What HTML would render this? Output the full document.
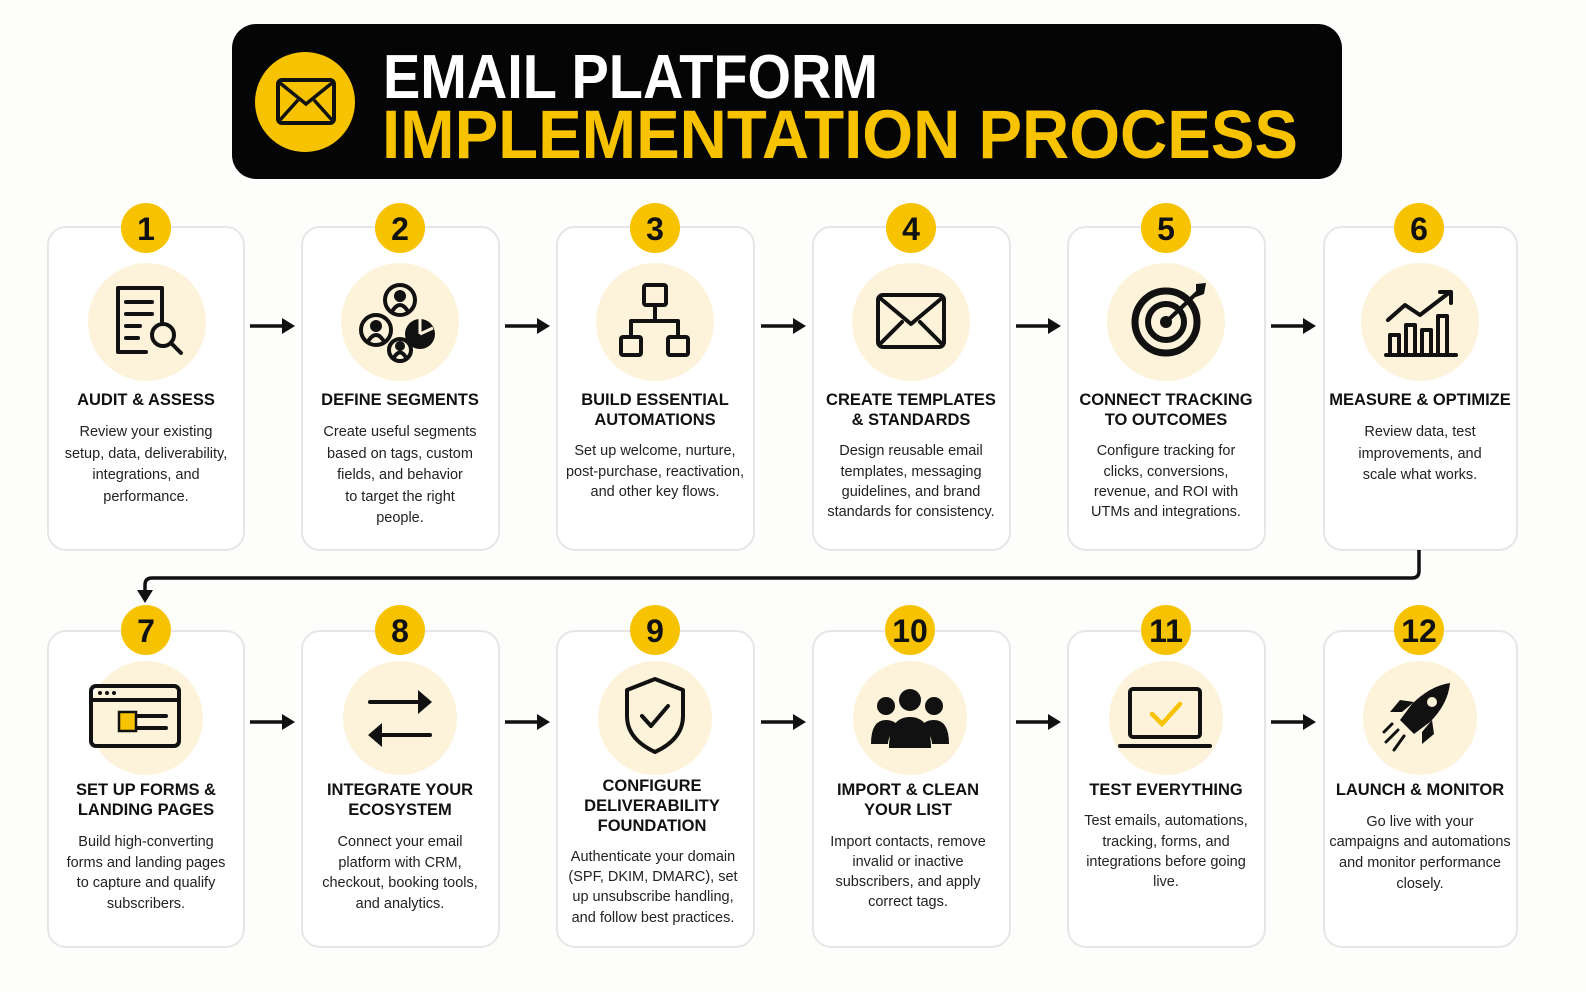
<!DOCTYPE html>
<html><head><meta charset="utf-8"><style>
html,body{margin:0;padding:0;background:#fdfdfc;overflow:hidden;width:1586px;height:992px;}
svg{display:block;}
.t{font-family:"Liberation Sans",sans-serif;font-weight:bold;font-size:16.5px;fill:#111;text-anchor:middle;}
.b{font-family:"Liberation Sans",sans-serif;font-size:14.5px;fill:#222;text-anchor:middle;}
.n{font-family:"Liberation Sans",sans-serif;font-weight:bold;font-size:32px;fill:#111;text-anchor:middle;}
.card{fill:#fff;stroke:#e6e6e6;stroke-width:2;}
.ic{fill:none;stroke:#111;stroke-width:4;stroke-linecap:round;stroke-linejoin:round;}
</style></head><body>
<svg width="1586" height="992" viewBox="0 0 1586 992" xmlns="http://www.w3.org/2000/svg">
<rect width="1586" height="992" fill="#fdfdfc"/>
<!-- header -->
<rect x="232" y="24" width="1110" height="155" rx="24" fill="#050505"/>
<circle cx="305" cy="102" r="50" fill="#F7C300"/>
<rect x="278" y="80" width="56" height="43" rx="4" fill="none" stroke="#111" stroke-width="4"/>
<path d="M280 83 L306 104 L332 83 M280 120 L298 100 M332 120 L314 100" fill="none" stroke="#111" stroke-width="3.5"/>
<text x="383" y="98" font-family="Liberation Sans,sans-serif" font-weight="bold" font-size="62" fill="#fff" textLength="495" lengthAdjust="spacingAndGlyphs">EMAIL PLATFORM</text>
<text x="382" y="158" font-family="Liberation Sans,sans-serif" font-weight="bold" font-size="69" fill="#F7C300" textLength="916" lengthAdjust="spacingAndGlyphs">IMPLEMENTATION PROCESS</text>

<g>
<rect class="card" x="48" y="227" width="196" height="323" rx="18"/>
<rect class="card" x="302" y="227" width="197" height="323" rx="18"/>
<rect class="card" x="557" y="227" width="197" height="323" rx="18"/>
<rect class="card" x="813" y="227" width="197" height="323" rx="18"/>
<rect class="card" x="1068" y="227" width="197" height="323" rx="18"/>
<rect class="card" x="1324" y="227" width="193" height="323" rx="18"/>
<rect class="card" x="48" y="631" width="196" height="316" rx="18"/>
<rect class="card" x="302" y="631" width="197" height="316" rx="18"/>
<rect class="card" x="557" y="631" width="197" height="316" rx="18"/>
<rect class="card" x="813" y="631" width="197" height="316" rx="18"/>
<rect class="card" x="1068" y="631" width="197" height="316" rx="18"/>
<rect class="card" x="1324" y="631" width="193" height="316" rx="18"/>
</g>
<g fill="#F7C300">
<circle cx="146" cy="228" r="25"/><circle cx="400" cy="228" r="25"/><circle cx="655" cy="228" r="25"/><circle cx="911" cy="228" r="25"/><circle cx="1166" cy="228" r="25"/><circle cx="1419" cy="228" r="25"/>
<circle cx="146" cy="630" r="25"/><circle cx="400" cy="630" r="25"/><circle cx="655" cy="630" r="25"/><circle cx="910" cy="630" r="25"/><circle cx="1166" cy="630" r="25"/><circle cx="1419" cy="630" r="25"/>
</g>
<g fill="#FDF3DA">
<circle cx="147" cy="322" r="59"/><circle cx="400" cy="322" r="59"/><circle cx="655" cy="322" r="59"/><circle cx="911" cy="322" r="59"/><circle cx="1166" cy="322" r="59"/><circle cx="1420" cy="322" r="59"/>
<circle cx="146" cy="718" r="57"/><circle cx="400" cy="718" r="57"/><circle cx="655" cy="718" r="57"/><circle cx="910" cy="718" r="57"/><circle cx="1166" cy="718" r="57"/><circle cx="1420" cy="718" r="57"/>
</g>
<g class="n">
<text x="146" y="240">1</text><text x="400" y="240">2</text><text x="655" y="240">3</text><text x="911" y="240">4</text><text x="1166" y="240">5</text><text x="1419" y="240">6</text>
<text x="146" y="642">7</text><text x="400" y="642">8</text><text x="655" y="642">9</text><text x="910" y="642">10</text><text x="1166" y="642">11</text><text x="1419" y="642">12</text>
</g>

<g class="ic">
<path d="M146 352 H118 V288 H162 V322"/><path d="M126 302 H152 M126 314 H152 M126 326 H140 M126 338 H138"/>
<circle cx="163" cy="335" r="11"/><path d="M171 343 L181 353"/>
</g>
<g class="ic" stroke-width="3.5">
<circle cx="400" cy="300" r="15"/><circle cx="376" cy="330" r="15"/><circle cx="400" cy="350" r="11"/>
<path d="M393 310 q7-10 14 0 M369 340 q7-10 14 0 M395 356 q5-7 10 0"/>
<circle cx="400" cy="296" r="4" fill="#111"/><circle cx="376" cy="326" r="4" fill="#111"/><circle cx="400" cy="346" r="3" fill="#111"/>
</g>
<circle cx="420" cy="334" r="15" fill="#111"/><path d="M420 334 L420 319 M420 334 L433 328" stroke="#FDF3DA" stroke-width="3"/>
<g class="ic" stroke-width="3.5">
<rect x="644" y="285" width="22" height="20" rx="2"/><rect x="621" y="337" width="20" height="18" rx="2"/><rect x="668" y="337" width="20" height="18" rx="2"/>
<path d="M655 305 V321 M631 337 V321 H678 V337"/>
</g>
<g class="ic">
<rect x="878" y="295" width="66" height="52" rx="5"/><path d="M880 298 L911 324 L942 298 M880 344 L902 322 M942 344 L920 322"/>
</g>
<g>
<circle cx="1166" cy="322" r="31" fill="none" stroke="#111" stroke-width="7"/>
<circle cx="1166" cy="322" r="18" fill="none" stroke="#111" stroke-width="6"/>
<circle cx="1166" cy="322" r="6" fill="#111"/>
<path d="M1166 322 L1198 292" stroke="#111" stroke-width="4"/>
<path d="M1196 284 L1206 283 L1204 294 L1196 297 Z" fill="#111"/>
</g>
<g class="ic" stroke-width="3.5">
<path d="M1386 355 H1456"/><rect x="1390" y="335" width="9" height="20"/><rect x="1406" y="325" width="9" height="30"/><rect x="1422" y="330" width="9" height="25"/><rect x="1438" y="316" width="9" height="39"/>
<path d="M1388 320 L1405 305 L1420 315 L1450 292 M1440 292 H1451 V303"/>
</g>
<g class="ic">
<rect x="91" y="686" width="88" height="60" rx="5"/><path d="M91 700 H179"/>
<path d="M132 716 H166 M132 728 H166"/>
</g>
<circle cx="100" cy="693" r="2" fill="#111"/><circle cx="107" cy="693" r="2" fill="#111"/><circle cx="114" cy="693" r="2" fill="#111"/>
<rect x="119" y="712" width="17" height="19" fill="#F7C300" stroke="#111" stroke-width="2.5"/>
<g class="ic" stroke-width="6">
<path d="M370 702 H425"/><path d="M430 735 H375"/>
</g>
<path d="M418 690 L432 702 L418 714 Z M382 723 L368 735 L382 747 Z" fill="#111"/>
<g class="ic">
<path d="M655 679 L683 690 V716 Q683 739 655 752 Q627 739 627 716 V690 Z"/><path d="M642 716 L651 726 L668 706"/>
</g>
<g fill="#111">
<circle cx="910" cy="700" r="11"/><path d="M889 748 Q889 717 910 717 Q931 717 931 748 Z"/>
<circle cx="886" cy="706" r="9"/><path d="M871 744 Q871 720 886 720 Q895 720 898 726 Q888 735 888 744 Z"/>
<circle cx="934" cy="706" r="9"/><path d="M949 744 Q949 720 934 720 Q925 720 922 726 Q932 735 932 744 Z"/>
</g>
<g class="ic">
<rect x="1130" y="689" width="70" height="48" rx="3"/><path d="M1120 746 H1210"/>
</g>
<path d="M1152 714 L1162 724 L1180 704" fill="none" stroke="#F7C300" stroke-width="4.5" stroke-linecap="round"/>
<g>
<path d="M1450 683 Q1430 686 1412 704 L1400 720 L1414 734 L1430 722 Q1448 704 1450 683 Z" fill="#111"/>
<path d="M1402 712 L1390 712 L1400 700 L1414 702 Z M1422 732 L1422 744 L1434 734 L1432 720 Z" fill="#111"/>
<circle cx="1432" cy="702" r="5" fill="#FDF3DA"/>
<path d="M1398 730 L1386 742 M1404 736 L1394 750 M1392 724 L1384 732" stroke="#111" stroke-width="3" stroke-linecap="round"/>
</g>

<g stroke="#111" stroke-width="3.5">
<path d="M250 326 H284"/><path d="M505 326 H539"/><path d="M761 326 H795"/><path d="M1016 326 H1050"/><path d="M1271 326 H1305"/>
<path d="M250 722 H284"/><path d="M505 722 H539"/><path d="M761 722 H795"/><path d="M1016 722 H1050"/><path d="M1271 722 H1305"/>
</g>
<g fill="#111">
<path d="M282 318 L295 326 L282 334Z"/><path d="M537 318 L550 326 L537 334Z"/><path d="M793 318 L806 326 L793 334Z"/><path d="M1048 318 L1061 326 L1048 334Z"/><path d="M1303 318 L1316 326 L1303 334Z"/>
<path d="M282 714 L295 722 L282 730Z"/><path d="M537 714 L550 722 L537 730Z"/><path d="M793 714 L806 722 L793 730Z"/><path d="M1048 714 L1061 722 L1048 730Z"/><path d="M1303 714 L1316 722 L1303 730Z"/>
</g>
<path d="M1419 550 V571 Q1419 578 1412 578 H152 Q145 578 145 585 V592" fill="none" stroke="#111" stroke-width="3.5"/>
<path d="M137 590 L145 603 L153 590Z" fill="#111"/>

<text class="t" x="146" y="405">AUDIT &amp; ASSESS</text>
<text class="b" x="146" y="436">Review your existing</text><text class="b" x="146" y="458">setup, data, deliverability,</text><text class="b" x="146" y="479">integrations, and</text><text class="b" x="146" y="501">performance.</text>
<text class="t" x="400" y="405">DEFINE SEGMENTS</text>
<text class="b" x="400" y="436">Create useful segments</text><text class="b" x="400" y="458">based on tags, custom</text><text class="b" x="400" y="479">fields, and behavior</text><text class="b" x="400" y="501">to target the right</text><text class="b" x="400" y="522">people.</text>
<text class="t" x="655" y="405">BUILD ESSENTIAL</text><text class="t" x="655" y="425">AUTOMATIONS</text>
<text class="b" x="655" y="455">Set up welcome, nurture,</text><text class="b" x="655" y="476">post-purchase, reactivation,</text><text class="b" x="655" y="496">and other key flows.</text>
<text class="t" x="911" y="405">CREATE TEMPLATES</text><text class="t" x="911" y="425">&amp; STANDARDS</text>
<text class="b" x="911" y="455">Design reusable email</text><text class="b" x="911" y="476">templates, messaging</text><text class="b" x="911" y="496">guidelines, and brand</text><text class="b" x="911" y="516">standards for consistency.</text>
<text class="t" x="1166" y="405">CONNECT TRACKING</text><text class="t" x="1166" y="425">TO OUTCOMES</text>
<text class="b" x="1166" y="455">Configure tracking for</text><text class="b" x="1166" y="476">clicks, conversions,</text><text class="b" x="1166" y="496">revenue, and ROI with</text><text class="b" x="1166" y="516">UTMs and integrations.</text>
<text class="t" x="1420" y="405">MEASURE &amp; OPTIMIZE</text>
<text class="b" x="1420" y="436">Review data, test</text><text class="b" x="1420" y="458">improvements, and</text><text class="b" x="1420" y="479">scale what works.</text>
<text class="t" x="146" y="795">SET UP FORMS &amp;</text><text class="t" x="146" y="815">LANDING PAGES</text>
<text class="b" x="146" y="846">Build high-converting</text><text class="b" x="146" y="867">forms and landing pages</text><text class="b" x="146" y="887">to capture and qualify</text><text class="b" x="146" y="908">subscribers.</text>
<text class="t" x="400" y="795">INTEGRATE YOUR</text><text class="t" x="400" y="815">ECOSYSTEM</text>
<text class="b" x="400" y="846">Connect your email</text><text class="b" x="400" y="867">platform with CRM,</text><text class="b" x="400" y="887">checkout, booking tools,</text><text class="b" x="400" y="908">and analytics.</text>
<text class="t" x="652" y="791">CONFIGURE</text><text class="t" x="652" y="811">DELIVERABILITY</text><text class="t" x="652" y="831">FOUNDATION</text>
<text class="b" x="653" y="861">Authenticate your domain</text><text class="b" x="653" y="881">(SPF, DKIM, DMARC), set</text><text class="b" x="653" y="901">up unsubscribe handling,</text><text class="b" x="653" y="922">and follow best practices.</text>
<text class="t" x="908" y="795">IMPORT &amp; CLEAN</text><text class="t" x="908" y="815">YOUR LIST</text>
<text class="b" x="908" y="846">Import contacts, remove</text><text class="b" x="908" y="866">invalid or inactive</text><text class="b" x="908" y="886">subscribers, and apply</text><text class="b" x="908" y="906">correct tags.</text>
<text class="t" x="1166" y="795">TEST EVERYTHING</text>
<text class="b" x="1166" y="825">Test emails, automations,</text><text class="b" x="1166" y="846">tracking, forms, and</text><text class="b" x="1166" y="866">integrations before going</text><text class="b" x="1166" y="886">live.</text>
<text class="t" x="1420" y="795">LAUNCH &amp; MONITOR</text>
<text class="b" x="1420" y="826">Go live with your</text><text class="b" x="1420" y="846">campaigns and automations</text><text class="b" x="1420" y="867">and monitor performance</text><text class="b" x="1420" y="888">closely.</text>
</svg>
</body></html>
